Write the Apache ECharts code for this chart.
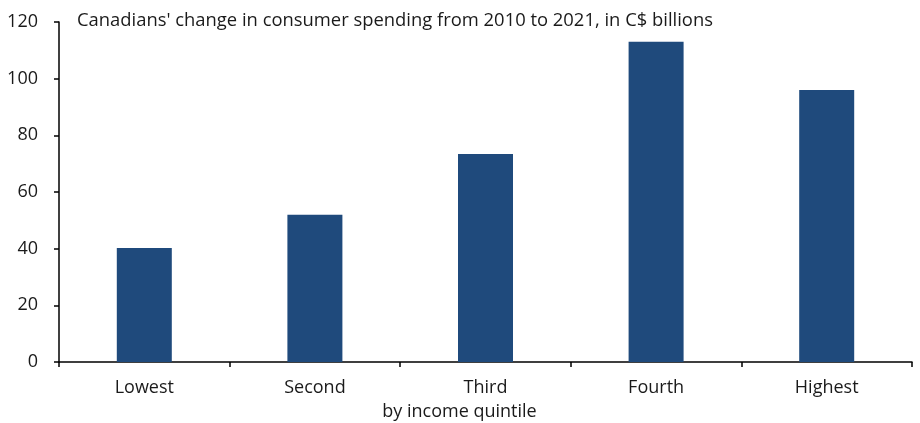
<!DOCTYPE html>
<html><head><meta charset="utf-8">
<script src="https://cdn.jsdelivr.net/npm/echarts@6/dist/echarts.min.js"></script>
<style>html,body{margin:0;padding:0;background:#fff}#c{width:920px;height:423px}</style>
</head><body><div id="c"></div>
<script>
const categories = ['Lowest', 'Second', 'Third', 'Fourth', 'Highest'];
const values = [40.2, 52, 73.4, 113, 96];
const yTicks = [0, 20, 40, 60, 80, 100, 120];
const titleText = "Canadians' change in consumer spending from 2010 to 2021, in C$ billions";
const xName = 'by income quintile';

const FONT = 'Open Sans';
const FS = 18;
const chart = echarts.init(document.getElementById('c'));
chart.setOption({
  animation: false,
  title: {text: titleText, left: 72, top: 7,
    textStyle: {fontFamily: FONT, fontSize: 18.4, fontWeight: 'normal', color: '#1a1a1a'}},
  grid: {left: 59, right: 8, top: 22, bottom: 61, containLabel: false, outerBoundsMode: 'none'},
  xAxis: {
    type: 'category', data: categories,
    name: xName, nameLocation: 'middle', nameGap: 41,
    nameTextStyle: {fontFamily: FONT, fontSize: FS, color: '#1a1a1a', padding: [0, 52, 0, 0]},
    axisLine: {lineStyle: {color: '#000', width: 1.5}},
    axisTick: {show: true, alignWithLabel: false, length: 5, lineStyle: {color: '#000', width: 1.5}},
    axisLabel: {fontFamily: FONT, fontSize: FS, color: '#1a1a1a', margin: 17}
  },
  yAxis: {
    type: 'value', min: yTicks[0], max: yTicks[yTicks.length - 1], interval: 20,
    axisLine: {show: true, lineStyle: {color: '#000', width: 1.5}},
    axisTick: {show: true, length: 5, lineStyle: {color: '#000', width: 1.5}},
    splitLine: {show: false},
    axisLabel: {fontFamily: FONT, fontSize: FS, color: '#1a1a1a', margin: 21}
  },
  series: [{type: 'bar', data: values, barWidth: 55,
    itemStyle: {color: '#1f4a7c'}}]
});
</script></body></html>
